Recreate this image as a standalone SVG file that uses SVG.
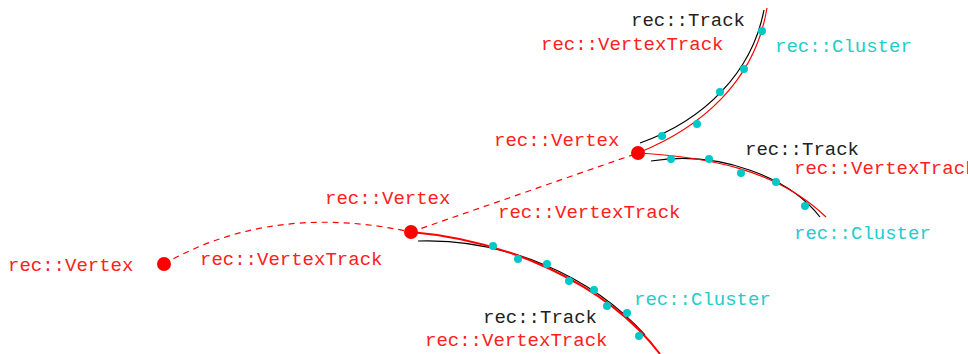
<svg xmlns="http://www.w3.org/2000/svg" width="968" height="354" viewBox="0 0 968 354">
  <style>
    text { font-family: "Liberation Mono", "Courier New", monospace; font-size: 19px; }
    .r { fill: #ff2020; }
    .k { fill: #222222; }
    .c { fill: #22cccc; }
    .vtx { fill: #ff0000; }
    .hit { fill: #00c8c8; }
    .trk { fill: none; stroke: #000000; stroke-width: 1.2; }
    .vtrk { fill: none; stroke: #ff0000; stroke-width: 1.2; }
    .link { fill: none; stroke: #ff0000; stroke-width: 1.2; stroke-dasharray: 6 5; }
  </style>

  <!-- connectors: vertex links and fitted tracks -->
  <g id="connectors">
    <path class="link" d="M164,264 C220,232 300,208 411,232"/>
    <path class="link" d="M411,232 L638,153"/>

    <path class="trk" d="M640,143 C705,120 752,72 764,10"/>
    <path class="vtrk" d="M638,153 C700,128 755,82 767,8"/>

    <path class="trk" d="M651,161 C720,150 790,178 820,217"/>
    <path class="vtrk" d="M638,153 C705,157 775,168 826,217"/>

    <path class="trk" d="M418,241 C505,238 592,276 645,335"/>
    <path class="vtrk" style="stroke-width:2" d="M411,232 C505,240 605,282 660,354"/>
  </g>

  <!-- primary vertex -->
  <g id="vertex-left">
    <circle class="vtx" cx="164" cy="264" r="7"/>
    <text class="r" x="8" y="271">rec::Vertex</text>
    <text class="r" x="200" y="265">rec::VertexTrack</text>
  </g>

  <!-- middle vertex with lower track -->
  <g id="vertex-middle">
    <circle class="vtx" cx="411" cy="232" r="7"/>
    <text class="r" x="325" y="204">rec::Vertex</text>
    <text class="r" x="498" y="218">rec::VertexTrack</text>
  </g>

  <g id="track-lower">
    <circle class="hit" cx="493" cy="246" r="4"/>
    <circle class="hit" cx="518" cy="259" r="4"/>
    <circle class="hit" cx="547" cy="264" r="4"/>
    <circle class="hit" cx="569" cy="281" r="4"/>
    <circle class="hit" cx="594" cy="290" r="4"/>
    <circle class="hit" cx="607" cy="306" r="4"/>
    <circle class="hit" cx="627" cy="313" r="4"/>
    <circle class="hit" cx="639" cy="336" r="4"/>
    <text class="c" x="634" y="305">rec::Cluster</text>
    <text class="k" x="483" y="323">rec::Track</text>
    <text class="r" x="425" y="346">rec::VertexTrack</text>
  </g>

  <!-- upper vertex with two tracks -->
  <g id="vertex-upper">
    <circle class="vtx" cx="638" cy="153" r="7"/>
    <text class="r" x="494" y="146">rec::Vertex</text>
  </g>

  <g id="track-upper">
    <circle class="hit" cx="662" cy="136" r="4"/>
    <circle class="hit" cx="697" cy="124" r="4"/>
    <circle class="hit" cx="720" cy="92" r="4"/>
    <circle class="hit" cx="744" cy="69" r="4"/>
    <circle class="hit" cx="762" cy="31" r="4"/>
    <text class="k" x="631" y="26">rec::Track</text>
    <text class="r" x="541" y="50">rec::VertexTrack</text>
    <text class="c" x="775" y="52">rec::Cluster</text>
  </g>

  <g id="track-right">
    <circle class="hit" cx="671" cy="159" r="4"/>
    <circle class="hit" cx="709" cy="159" r="4"/>
    <circle class="hit" cx="741" cy="173" r="4"/>
    <circle class="hit" cx="776" cy="182" r="4"/>
    <circle class="hit" cx="805" cy="206" r="4"/>
    <text class="k" x="745" y="155">rec::Track</text>
    <text class="r" x="794" y="174">rec::VertexTrack</text>
    <text class="c" x="794" y="239">rec::Cluster</text>
  </g>
</svg>
